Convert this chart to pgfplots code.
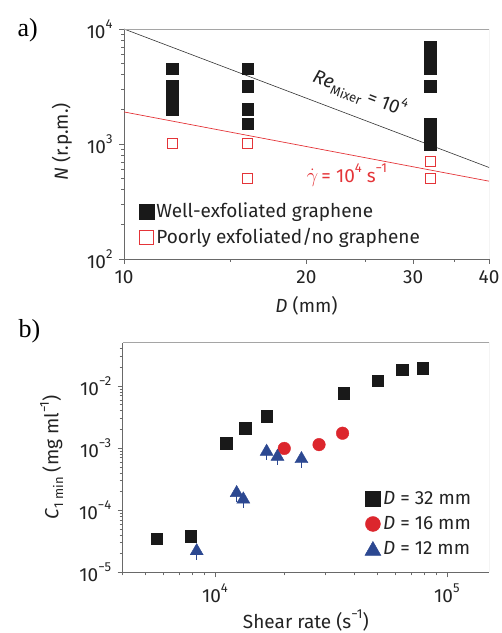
\documentclass[border=0pt]{standalone}
\usepackage{fontspec}
\setmainfont{Fira Sans}
\newfontfamily\seriffont{Liberation Serif}
\usepackage{pgfplots}
\pgfplotsset{compat=1.18}
\definecolor{myred}{RGB}{220,38,45}
\definecolor{lred}{RGB}{228,52,56}
\definecolor{myblue}{RGB}{44,72,145}
\definecolor{txt}{RGB}{35,35,35}
\definecolor{axgray}{RGB}{105,105,105}
\definecolor{boxgray}{RGB}{165,165,165}
\newcommand\sps[1]{\raisebox{0.5em}{\fontsize{13bp}{13bp}\selectfont #1}}
\newcommand\sbs[1]{\raisebox{-0.25em}{\fontsize{13bp}{13bp}\selectfont #1}}
\newcommand\fs{\fontsize{19bp}{22bp}\selectfont}
\begin{document}
\fs
\begin{tikzpicture}
\path[use as bounding box] (0bp,0bp) rectangle (502bp,633bp);
% ---------------- panel a ----------------
\begin{axis}[scale only axis, xmode=log, ymode=log,
  axis lines=left, axis line style={-, draw=axgray, line width=0.8bp},
  tick align=outside, major tick length=5bp, minor tick length=3bp,
  tick style={axgray, line width=0.6bp},
  ticklabel style={font=\fs, text=txt},
  label style={font=\fs, text=txt},
  legend style={draw=none, fill=none, font=\fs, text=txt, row sep=4bp},
  legend cell align=left,
  at={(124bp,374bp)}, anchor=south west, width=365bp, height=230bp,
  xmin=10, xmax=40, ymin=100, ymax=10000,
  xtick={10,20,30,40}, xticklabels={10,20,30,40},
  minor xtick={15,25,35},
  ytick={100,1000,10000}, yticklabels={10\sps{2},10\sps{3},10\sps{4}},
  minor ytick={200,300,400,500,600,700,800,900,2000,3000,4000,5000,6000,7000,8000,9000},
  xlabel={\textit{D} (mm)}, xlabel style={at={(axis description cs:0.5,-0.205)}, anchor=center},
  ylabel={\textit{N} (r.p.m.)}, ylabel style={at={(axis description cs:-0.17,0.51)}, anchor=center},
  legend style={at={(axis description cs:0.032,0.262)}, anchor=north west},
]
\addplot[black!80, line width=0.6bp, forget plot] coordinates {(10,10000) (40,625)};
\addplot[lred, line width=0.7bp, forget plot] coordinates {(10,1900) (40,475)};
\addplot[only marks, mark=square*, mark size=5.8bp, mark options={fill=black!90, draw=black!90},
  legend image code/.code={\draw[fill=black!90,draw=black!90] (0bp,-7.5bp) rectangle (15bp,7.5bp);}]
 coordinates {(12,4500) (12,3200) (12,2500) (12,2000)
   (16,4500) (16,3200) (16,2000) (16,1500)
   (32,7000) (32,5700) (32,4500) (32,3200) (32,1500) (32,1250) (32,1000)};
\addlegendentry{Well-exfoliated graphene}
\addplot[only marks, mark=square, mark size=5bp, mark options={draw=lred, line width=1bp},
  legend image code/.code={\draw[draw=lred, line width=1bp] (0.5bp,-7bp) rectangle (14.5bp,7bp);}]
 coordinates {(12,1000) (16,1000) (16,500) (32,700) (32,500)};
\addlegendentry{Poorly exfoliated/no graphene}
\node[rotate=-21, text=txt, font=\fs] at (axis cs:24.5,2770) {\textit{Re}\sbs{Mixer} = 10\sps{4}};
\node[text=lred, font=\fs, anchor=west, inner sep=0pt] at (rel axis cs:0.50,0.365) {$\dot{\gamma}$\,= 10\sps{4} s\sps{−1}};
\draw[boxgray, line width=0.7bp] (rel axis cs:0,1) -- (rel axis cs:1,1) -- (rel axis cs:1,0);
\end{axis}
% ---------------- panel b ----------------
\begin{axis}[scale only axis, xmode=log, ymode=log,
  axis lines=left, axis line style={-, draw=axgray, line width=0.8bp},
  tick align=outside, major tick length=5bp, minor tick length=3bp,
  tick style={axgray, line width=0.6bp},
  ticklabel style={font=\fs, text=txt},
  label style={font=\fs, text=txt},
  legend style={draw=none, fill=none, font=\fs, text=txt, row sep=5bp},
  legend cell align=left,
  at={(122.7bp,60.7bp)}, anchor=south west, width=366.3bp, height=229.6bp,
  xmin=4000, xmax=152000, ymin=1e-5, ymax=0.05,
  xtick={10000,100000}, xticklabels={10\sps{4},10\sps{5}},
  minor xtick={4000,5000,6000,7000,8000,9000,20000,30000,40000,50000,60000,70000,80000,90000},
  ytick={1e-5,1e-4,1e-3,1e-2}, yticklabels={10\sps{−5},10\sps{−4},10\sps{−3},10\sps{−2}},
  minor ytick={2e-5,3e-5,4e-5,5e-5,6e-5,7e-5,8e-5,9e-5,2e-4,3e-4,4e-4,5e-4,6e-4,7e-4,8e-4,9e-4,2e-3,3e-3,4e-3,5e-3,6e-3,7e-3,8e-3,9e-3,2e-2,3e-2,4e-2},
  xlabel={Shear rate (s\sps{−1})}, xlabel style={at={(axis description cs:0.5,-0.21)}, anchor=center},
  ylabel={\textit{C}\sbs{1 min} (mg ml\sps{−1})}, ylabel style={at={(axis description cs:-0.194,0.5)}, anchor=center},
  legend style={at={(axis description cs:0.652,0.372)}, anchor=north west},
]
% error bars of the 12 mm series (drawn first, under the triangles)
\addplot[forget plot, draw=none, mark=none,
  error bars/.cd, y dir=minus, y explicit, error mark=none,
  error bar style={myblue, line width=0.9bp}]
 coordinates {(8340,2.2e-5) -= (0,0.62e-5) (12400,1.9e-4) -= (0,0.53e-4) (13250,1.5e-4) -= (0,0.42e-4)
  (16700,8.8e-4) -= (0,2.46e-4) (18600,7.3e-4) -= (0,2.04e-4) (23600,6.7e-4) -= (0,1.88e-4)};
\addplot[only marks, mark=square*, mark size=5.8bp, mark options={fill=black!90, draw=black!90},
  legend image code/.code={\draw[fill=black!90,draw=black!90] (0bp,-7.5bp) rectangle (15bp,7.5bp);}]
 coordinates {(5610,3.5e-5) (7860,3.84e-5) (11200,1.19e-3) (13500,2.09e-3) (16700,3.3e-3)
  (35900,7.7e-3) (50300,0.0122) (64200,0.0184) (78600,0.0195)};
\addlegendentry{\textit{D} = 32 mm}
\addplot[only marks, mark=*, mark size=6.3bp, mark options={fill=myred, draw=myred},
  legend image code/.code={\fill[myred] (7.5bp,0bp) circle[radius=7.5bp];}]
 coordinates {(19900,9.9e-4) (28100,1.14e-3) (35500,1.74e-3)};
\addlegendentry{\textit{D} = 16 mm}
\addplot[only marks, mark=triangle*, mark size=7.5bp, mark options={fill=myblue, draw=myblue},
  legend image code/.code={\fill[myblue] (-0.5bp,-6.5bp) -- (15.5bp,-6.5bp) -- (7.5bp,7.5bp) -- cycle;}]
 coordinates {(8340,2.2e-5) (12400,1.9e-4) (13250,1.5e-4)
  (16700,8.8e-4) (18600,7.3e-4) (23600,6.7e-4)};
\addlegendentry{\textit{D} = 12 mm}
\draw[boxgray, line width=0.7bp] (rel axis cs:0,1) -- (rel axis cs:1,1) -- (rel axis cs:1,0);
\end{axis}
\node[font=\seriffont\fontsize{26bp}{28bp}\selectfont, anchor=base west] at (11bp,596bp) {a)};
\node[font=\seriffont\fontsize{26bp}{28bp}\selectfont, anchor=base west] at (12bp,295bp) {b)};
\end{tikzpicture}
\end{document}
